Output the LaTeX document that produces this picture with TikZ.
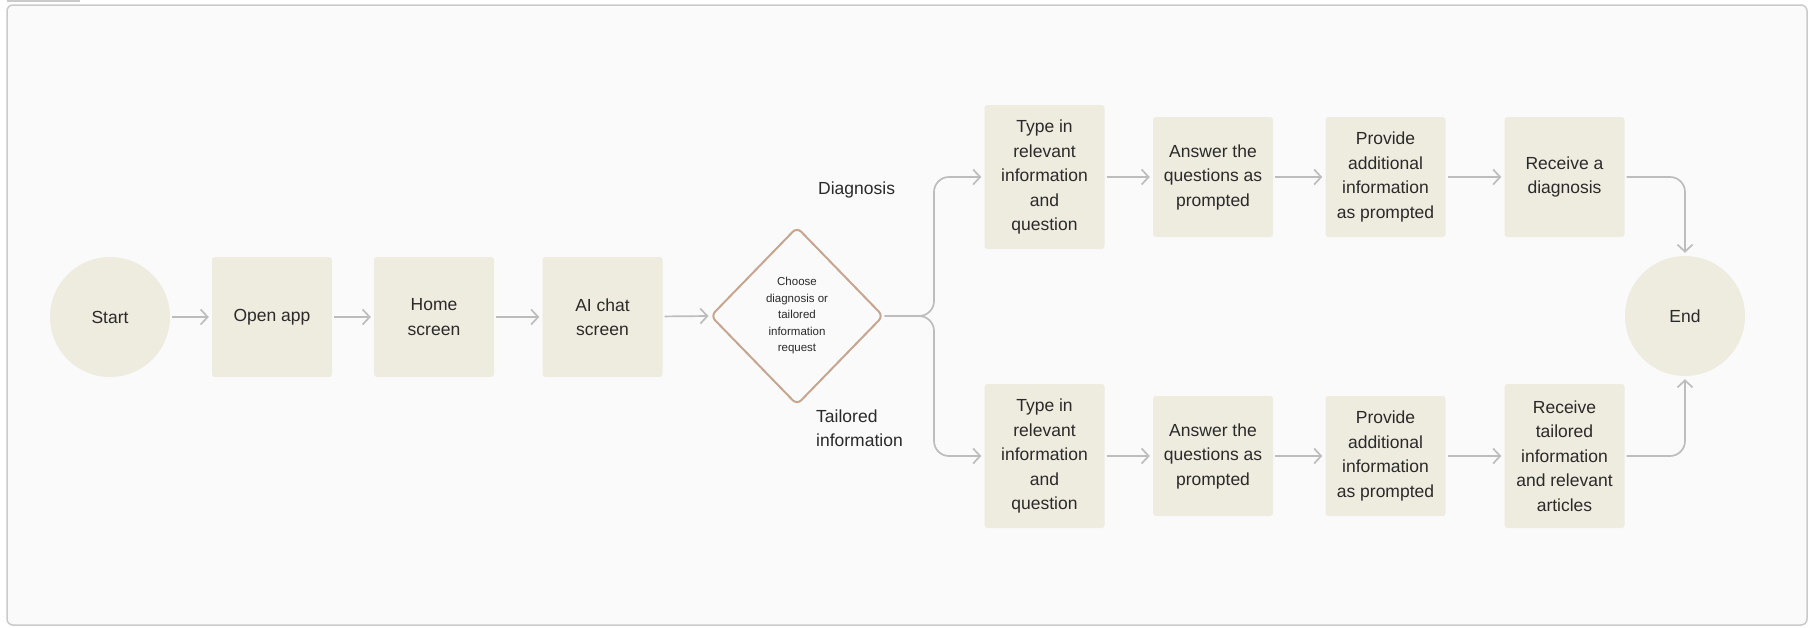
\documentclass[tikz,border=0pt]{standalone}
\usepackage{fontspec}
\setmainfont{Liberation Sans}
\usetikzlibrary{arrows.meta,shapes.geometric}
\definecolor{panel}{HTML}{FAFAFA}
\definecolor{panelline}{HTML}{CACACA}
\definecolor{boxfill}{HTML}{EEEBDF}
\definecolor{flowline}{HTML}{BDBDBD}
\definecolor{decline}{HTML}{C6A690}
\definecolor{ink}{HTML}{2A2A2A}
\begin{document}
\begin{tikzpicture}[x=1pt,y=-1pt,
  stepbox/.style={rectangle, rounded corners=3pt, fill=boxfill, draw=none,
    minimum width=120pt, minimum height=120pt, inner sep=0pt, align=center,
    text=ink, font=\fontsize{17.5}{24.5}\selectfont},
  tallbox/.style={stepbox, minimum height=144pt},
  endpoint/.style={circle, fill=boxfill, draw=none, minimum size=120pt,
    inner sep=0pt, text=ink, font=\fontsize{17.5}{24.5}\selectfont},
  choice/.style={diamond, draw=decline, line width=2pt, rounded corners=6pt,
    fill=panel, minimum width=173pt, minimum height=178pt, inner sep=0pt,
    align=center, text=ink, font=\fontsize{11.5}{16.5}\selectfont},
  branchlabel/.style={text=ink, align=left, inner sep=0pt,
    font=\fontsize{17.5}{24.5}\selectfont},
  flow/.style={draw=flowline, line width=1.7pt,
    -{Straight Barb[length=7pt,width=15pt]}, shorten >=3pt, shorten <=2pt},
  elbow/.style={flow, rounded corners=15pt}
]
\useasboundingbox (0,0) rectangle (1813,627);
\fill[white] (0,0) rectangle (1813,627);
% panel frame and the tab above it
\draw[fill=panel, draw=panelline, line width=1.5pt, rounded corners=6pt]
  (7,5) rectangle (1807,625);
\draw[panelline, line width=2pt] (7,0.8) -- (80,0.8);

% main row
\node[endpoint] (start) at (110,317) {Start};
\node[stepbox] (open) at (272,317) {Open app};
\node[stepbox] (home) at (434,317) {Home\\screen};
\node[stepbox] (chat) at (602.5,317) {AI chat\\screen};
\node[choice] (pick) at (797,316) {Choose\\diagnosis or\\tailored\\information\\request};

% diagnosis branch
\node[tallbox] (type1) at (1044.5,177) {Type in\\relevant\\information\\and\\question};
\node[stepbox] (ans1) at (1213,177) {Answer the\\questions as\\prompted};
\node[stepbox] (prov1) at (1385.5,177) {Provide\\additional\\information\\as prompted};
\node[stepbox] (recv1) at (1564.5,177) {Receive a\\diagnosis};

% tailored information branch
\node[tallbox] (type2) at (1044.5,456) {Type in\\relevant\\information\\and\\question};
\node[stepbox] (ans2) at (1213,456) {Answer the\\questions as\\prompted};
\node[stepbox] (prov2) at (1385.5,456) {Provide\\additional\\information\\as prompted};
\node[tallbox] (recv2) at (1564.5,456) {Receive\\tailored\\information\\and relevant\\articles};

\node[endpoint] (finish) at (1685,316) {End};

% branch labels
\node[branchlabel, anchor=west] (lbldiag) at (818,190) {Diagnosis};
\node[branchlabel, anchor=west] (lbltail) at (816,428) {Tailored\\information};

% connectors
\draw[flow] (start) -- (open);
\draw[flow] (open) -- (home);
\draw[flow] (home) -- (chat);
\draw[flow, shorten >=1pt] (chat) -- (pick.west);

\coordinate (fork) at (934,316);
\draw[elbow, shorten <=0pt] (pick.east) -- (fork) |- (type1.west);
\draw[elbow, shorten <=0pt] (pick.east) -- (fork) |- (type2.west);

\draw[flow] (type1) -- (ans1);
\draw[flow] (ans1) -- (prov1);
\draw[flow] (prov1) -- (recv1);
\draw[flow] (type2) -- (ans2);
\draw[flow] (ans2) -- (prov2);
\draw[flow] (prov2) -- (recv2);

\draw[elbow] (recv1.east) -| (finish.north);
\draw[elbow] (recv2.east) -| (finish.south);
\end{tikzpicture}
\end{document}
